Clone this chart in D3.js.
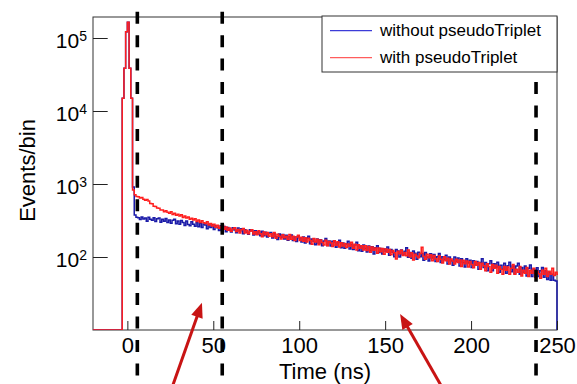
<!DOCTYPE html>
<html>
<head>
<meta charset="utf-8">
<script src="https://cdn.jsdelivr.net/npm/d3@7"></script>
<style>
    body { margin: 0; background: #fff; }
    svg { display: block; font-family: "Liberation Sans", Arial, Helvetica, sans-serif; }
</style>
</head>
<body>
<div class="container"></div>
<script>
// time histogram, 1 ns bins, first bin starts at -20 ns
var firstBin = -20;

var blueCounts = [
    0, 0, 0, 0, 0, 0, 0, 0, 0, 0, 0, 0, 0, 0, 0, 0, 0,
    14900, 38500, 122000, 165000, 38500, 14900,
    910, 376, 350,
    344, 327, 352, 331,
    343, 310, 351, 328, 318, 345, 306, 334, 343, 300,
    328, 308, 336, 296, 321, 289, 318, 328, 286, 312,
    281, 317, 296, 271, 311, 279, 269, 303, 282, 263,
    297, 259, 291, 254, 284, 275, 244, 282, 254, 276,
    238, 268, 251, 230, 268, 242, 262, 222, 254, 234,
    220, 252, 234, 215, 249, 227, 244, 208, 236, 219,
    205, 237, 229, 200, 228, 205, 222, 196, 226, 195,
    218, 188, 212, 216, 182, 208, 189, 174, 206, 187,
    203, 177, 199, 169, 190, 200, 168, 188, 163, 194,
    182, 161, 188, 156, 181, 192, 152, 177, 165, 147,
    176, 153, 173, 143, 166, 179, 144, 166, 141, 164,
    161, 136, 158, 169, 134, 155, 132, 151, 164, 129,
    150, 127, 146, 159, 122, 141, 120, 146, 132, 117,
    142, 122, 138, 110, 134, 143, 115, 131, 110, 129,
    120, 137, 106, 127, 116, 101, 127, 121, 100, 125,
    107, 120, 134, 99, 115, 96, 121, 113, 93, 116,
    101, 112, 90, 115, 100, 88, 111, 97, 108, 87,
    101, 112, 84, 101, 92, 106, 80, 100, 89, 77,
    100, 87, 97, 75, 95, 85, 73, 95, 83, 90,
    72, 89, 78, 87, 68, 84, 95, 72, 84, 65,
    81, 89, 65, 81, 72, 85, 62, 77, 68, 82,
    60, 76, 85, 63, 75, 59, 75, 82, 58, 72,
    62, 75, 55, 70, 78, 54, 68, 60, 71, 54,
    65, 72, 53, 65, 49, 62, 48, 58, 48, 47,
    0
];

var redCounts = [
    0, 0, 0, 0, 0, 0, 0, 0, 0, 0, 0, 0, 0, 0, 0, 0, 0,
    14900, 38500, 122000, 165000, 38500, 14900,
    830, 712, 676, 668, 641, 652, 618,
    597, 612, 585, 541, 536, 494, 493, 468, 465, 440,
    440, 416, 431, 409, 399, 417, 383, 396, 374, 386,
    364, 378, 349, 364, 342, 352, 330, 340, 321, 335,
    306, 322, 298, 314, 295, 287, 303, 275, 288, 266,
    280, 255, 272, 247, 262, 272, 240, 257, 233, 249,
    225, 241, 251, 224, 239, 214, 236, 245, 214, 232,
    208, 226, 236, 206, 221, 201, 228, 208, 190, 220,
    202, 217, 192, 209, 189, 216, 181, 205, 192, 176,
    201, 183, 192, 174, 203, 175, 192, 168, 188, 199,
    168, 186, 165, 183, 161, 180, 168, 150, 179, 161,
    175, 147, 171, 158, 146, 169, 143, 163, 155, 139,
    167, 145, 162, 137, 157, 142, 153, 135, 151, 140,
    159, 132, 149, 125, 147, 132, 143, 125, 143, 123,
    139, 116, 137, 124, 133, 113, 133, 118, 131, 109,
    129, 116, 127, 107, 123, 114, 94, 120, 111, 124,
    105, 115, 104, 125, 101, 114, 91, 109, 103, 98,
    112, 136, 102, 93, 109, 98, 107, 89, 105, 95,
    87, 103, 93, 83, 101, 89, 96, 80, 94, 88,
    80, 93, 84, 91, 74, 90, 81, 88, 73, 87,
    79, 71, 87, 77, 84, 68, 82, 76, 65, 81,
    74, 62, 79, 70, 77, 60, 74, 68, 58, 74,
    66, 73, 58, 70, 79, 58, 68, 62, 74, 55,
    66, 60, 72, 54, 66, 60, 70, 53, 64, 59,
    51, 66, 58, 70, 54, 64, 58, 70, 56, 62,
    58
];

var xMajorTicks = [0, 50, 100, 150, 200, 250];
var xMinorTicks = [-20, -10, 10, 20, 30, 40, 60, 70, 80, 90, 110, 120, 130, 140,
    160, 170, 180, 190, 210, 220, 230, 240];
var yMajorTicks = [1e2, 1e3, 1e4, 1e5];

// dashed time cuts (ns)
var cutTimes = [5.8, 55.2, 237.8];

// red arrows, tail -> tip, in (ns, events/bin)
var arrowTails = [[25.5, 1.51], [184, 1.51]];
var arrowTips = [[43.4, 23.7], [158.7, 16.6]];

var legendLabels = ["without pseudoTriplet", "with pseudoTriplet"];
var seriesColors = ["#1a1aa8", "#ff1e1e"];
var legendColors = ["#3c3cd8", "#ff5c5c"];

var config = {
    width: 577,
    height: 384,
    margin: { top: 17, right: 20, bottom: 54, left: 93 },
    xDomain: [-20, 250],
    yDomain: [10, 1.94e5],
    dashTop: 11.7,
    dash: "12 11.45"
};

var svg = d3.select(".container").append("svg")
    .attr("width", config.width)
    .attr("height", config.height);

var plotBottom = config.height - config.margin.bottom;
var plotRight = config.width - config.margin.right;

var x = d3.scaleLinear().domain(config.xDomain).range([config.margin.left, plotRight]);
var y = d3.scaleLog().domain(config.yDomain).range([plotBottom, config.margin.top]);

var yPos = (v) => v > config.yDomain[0] ? y(v) : plotBottom;

svg.append("clipPath").attr("id", "plot-clip")
    .append("rect")
    .attr("x", config.margin.left)
    .attr("y", config.margin.top)
    .attr("width", plotRight - config.margin.left + 1)
    .attr("height", plotBottom - config.margin.top);

// frame
svg.append("rect")
    .attr("x", config.margin.left)
    .attr("y", config.margin.top)
    .attr("width", plotRight - config.margin.left)
    .attr("height", plotBottom - config.margin.top)
    .attr("fill", "none")
    .attr("stroke", "#333")
    .attr("stroke-width", 1);

var histLine = d3.line()
    .x((d) => x(d[0]))
    .y((d) => yPos(d[1]))
    .curve(d3.curveStepAfter);

var histPoints = (counts) => {
    var pts = counts.map((c, i) => [firstBin + i, c]);
    pts.push([firstBin + counts.length, counts[counts.length - 1]]);
    return pts;
};

[blueCounts, redCounts].forEach((counts, i) => {
    svg.append("path")
        .attr("clip-path", "url(#plot-clip)")
        .attr("d", histLine(histPoints(counts)))
        .attr("fill", "none")
        .attr("stroke", seriesColors[i])
        .attr("stroke-width", 1.5);
});

// x axis
var gx = svg.append("g").attr("transform", `translate(0,${plotBottom})`);
gx.call(d3.axisBottom(x).tickValues(xMinorTicks).tickSize(-4.5).tickFormat(""));
gx.call(d3.axisBottom(x).tickValues(xMajorTicks).tickSize(-9).tickPadding(7).tickFormat(d3.format("d")));
gx.select(".domain").remove();
gx.selectAll("line").attr("stroke", "#222");
gx.selectAll("text").attr("font-size", "22px").attr("fill", "#000")
    .attr("font-family", "'Liberation Sans', Arial, sans-serif");

// y axis
var yMinorTicks = yMajorTicks.flatMap((m) => [2, 3, 4, 5, 6, 7, 8, 9].map((k) => k * m / 10))
    .filter((v) => v > config.yDomain[0] && v < config.yDomain[1]);
var gy = svg.append("g").attr("transform", `translate(${config.margin.left},0)`);
gy.call(d3.axisLeft(y).tickValues(yMinorTicks).tickSize(-7.3).tickFormat(""));
gy.call(d3.axisLeft(y).tickValues(yMajorTicks).tickSize(-14.7).tickPadding(6).tickFormat(""));
gy.select(".domain").remove();
gy.selectAll("line").attr("stroke", "#222");
gy.selectAll(".tick text").each(function (d) {
    var t = d3.select(this)
        .attr("font-size", "21px")
        .attr("fill", "#000")
        .attr("dy", "0.44em")
        .attr("font-family", "'Liberation Sans', Arial, sans-serif");
    t.append("tspan").text("10");
    t.append("tspan").attr("font-size", "14px").attr("dy", "-0.45em").text(Math.round(Math.log10(d)));
});

// axis titles
svg.append("text")
    .attr("x", (config.margin.left + plotRight) / 2)
    .attr("y", 378.5)
    .attr("text-anchor", "middle")
    .attr("font-size", "22px")
    .text("Time (ns)");

svg.append("text")
    .attr("transform", `translate(35,170.5) rotate(-90)`)
    .attr("text-anchor", "middle")
    .attr("font-size", "22px")
    .text("Events/bin");

// dashed cut lines
cutTimes.forEach((t, i) => {
    var top = i < 2 ? config.dashTop : config.margin.top;
    svg.append("line")
        .attr("x1", x(t)).attr("x2", x(t))
        .attr("y1", top).attr("y2", config.height)
        .attr("stroke", "#000")
        .attr("stroke-width", 3.6)
        .attr("stroke-dasharray", config.dash)
        .attr("stroke-dashoffset", top - config.dashTop);
});

// legend
var legend = svg.append("g").attr("transform", "translate(322,16)");
legend.append("rect")
    .attr("width", plotRight - 322)
    .attr("height", 56)
    .attr("fill", "#fff")
    .attr("stroke", "#333")
    .attr("stroke-width", 1);
legendLabels.forEach((label, i) => {
    var row = legend.append("g").attr("transform", `translate(0,${14.7 + i * 27})`);
    row.append("line")
        .attr("x1", 8).attr("x2", 50)
        .attr("stroke", legendColors[i])
        .attr("stroke-width", 1.2);
    row.append("text")
        .attr("x", 58)
        .attr("y", 5.6)
        .attr("font-size", "17px")
        .text(label);
});

// arrows
var arrowColor = "#c81414";
arrowTails.forEach((tail, i) => {
    var x0 = x(tail[0]), y0 = y(tail[1]);
    var x1 = x(arrowTips[i][0]), y1 = y(arrowTips[i][1]);
    var len = Math.hypot(x1 - x0, y1 - y0);
    var ux = (x1 - x0) / len, uy = (y1 - y0) / len;
    var headLen = 15, headHalf = 6;
    var bx = x1 - ux * headLen, by = y1 - uy * headLen;
    svg.append("line")
        .attr("x1", x0).attr("y1", y0)
        .attr("x2", bx + ux * 2).attr("y2", by + uy * 2)
        .attr("stroke", arrowColor)
        .attr("stroke-width", 3);
    svg.append("path")
        .attr("d", `M${x1},${y1}L${bx - uy * headHalf},${by + ux * headHalf}L${bx + uy * headHalf},${by - ux * headHalf}Z`)
        .attr("fill", arrowColor);
});
</script>
</body>
</html>
